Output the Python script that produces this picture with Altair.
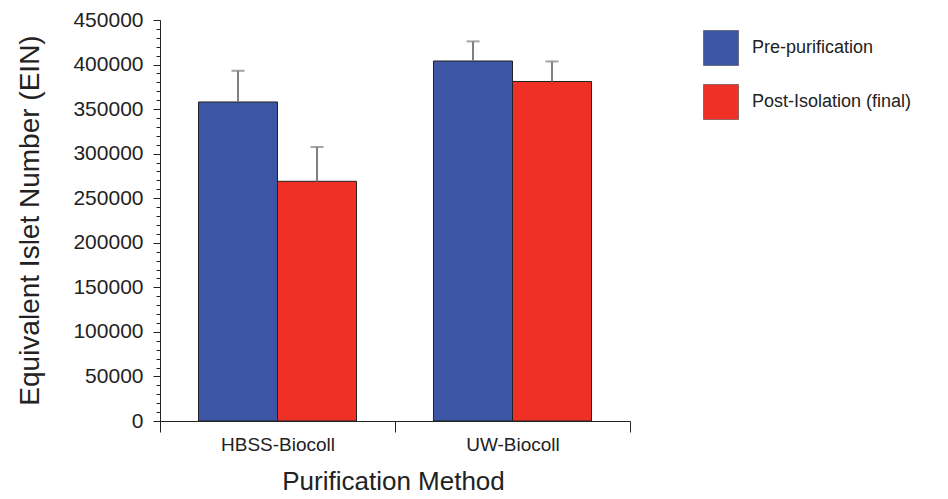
import altair as alt
import pandas as pd

methods = ["HBSS-Biocoll", "HBSS-Biocoll", "UW-Biocoll", "UW-Biocoll"]
series = ["Pre-purification", "Post-Isolation (final)", "Pre-purification", "Post-Isolation (final)"]
values = [358000, 269000, 404000, 381000]
errors = [35000, 38500, 22000, 22500]

series_order = ["Pre-purification", "Post-Isolation (final)"]
method_order = ["HBSS-Biocoll", "UW-Biocoll"]
colors = ["#3D55A5", "#EE3124"]

df = pd.DataFrame({"method": methods, "series": series, "value": values, "err": errors})
df["top"] = df["value"] + df["err"]

FONT = "Liberation Sans"

x_enc = alt.X("method:N", sort=method_order,
              scale=alt.Scale(paddingInner=0, paddingOuter=0),
              axis=alt.Axis(orient="bottom", title="Purification Method", tickBand="extent",
                            tickSize=11, labelPadding=3, labelFontSize=19, titleFontSize=26,
                            labelAngle=0, titleX=233, titleY=60, titleBaseline="middle",
                            domainColor="#222", tickColor="#222", labelColor="#222",
                            titleColor="#222", titleFontWeight="normal", grid=False))
xo = alt.XOffset("series:N", sort=series_order,
                 scale=alt.Scale(paddingInner=0, paddingOuter=0.487))
yscale = alt.Scale(domain=[0, 450000], nice=False)

bars = alt.Chart(df).mark_bar(stroke="#222", strokeWidth=1).encode(
    x=x_enc,
    xOffset=xo,
    y=alt.Y("value:Q", scale=yscale,
            axis=alt.Axis(orient="left", title="Equivalent Islet Number (EIN)",
                          values=list(range(0, 450001, 50000)), tickSize=7, format="d",
                          labelPadding=10, labelFontSize=21, titleFontSize=28,
                          titleX=-130, titleY=200, titleBaseline="middle",
                          titleFontWeight="normal", grid=False,
                          domainColor="#222", tickColor="#222", labelColor="#222",
                          titleColor="#222")),
    color=alt.Color("series:N", sort=series_order,
                    scale=alt.Scale(domain=series_order, range=colors),
                    legend=alt.Legend(title=None, orient="none", legendX=543, legendY=10,
                                      symbolType="square", symbolSize=1225,
                                      symbolStrokeColor="#333", symbolStrokeWidth=0.5,
                                      labelFontSize=18, labelOffset=13, rowPadding=16,
                                      labelColor="#222")),
)

err_rule = alt.Chart(df).mark_rule(color="#808080", strokeWidth=2).encode(
    x=x_enc,
    xOffset=xo,
    y=alt.Y("value:Q", scale=yscale,
            axis=alt.Axis(orient="left", title=None, labels=False, domain=False,
                          values=list(range(0, 450001, 10000)), tickSize=4,
                          tickColor="#222", grid=False)),
    y2="top:Q",
)

err_cap = alt.Chart(df).mark_tick(color="#808080", thickness=2, size=13).encode(
    x=x_enc,
    xOffset=xo,
    y=alt.Y("top:Q", scale=yscale, axis=None),
)

chart = alt.layer(bars, err_rule, err_cap).resolve_axis(y="independent").properties(
    width=470, height=401,
    autosize=alt.AutoSizeParams(type="none"),
    padding={"left": 160, "top": 20, "right": 318, "bottom": 78},
    background="white",
).configure(font=FONT).configure_view(stroke=None)

chart.save("out.html", embed_options={"renderer": "svg", "actions": False})
